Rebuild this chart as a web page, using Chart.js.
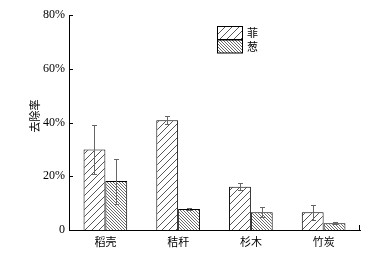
<!DOCTYPE html>
<html><head><meta charset="utf-8">
<script src="https://cdn.jsdelivr.net/npm/chart.js@4/dist/chart.umd.min.js"></script>
<style>html,body{margin:0;padding:0;background:#fff}#w{width:383px;height:253px}</style>
</head><body><div id="w"><canvas id="c" width="383" height="253"></canvas></div>
<script>
const categories = ['稻壳','秸秆','杉木','竹炭'];
const seriesNames = ['菲','葱'];
const valuesA = [30, 40.8, 16.1, 6.6];
const errorsA = [9.2, 1.5, 1.4, 2.7];
const valuesB = [18.2, 7.8, 6.6, 2.5];
const errorsB = [8.4, 0.3, 1.9, 0.3];
const yTicks = [0, 20, 40, 60, 80];
const yTitle = '去除率';

function hatch(size, dir, color, lw){
  const c = document.createElement('canvas'); c.width = size; c.height = size;
  const g = c.getContext('2d');
  g.fillStyle = '#fff'; g.fillRect(0,0,size,size);
  g.strokeStyle = color; g.lineWidth = lw;
  g.beginPath();
  if (dir === '/') {
    g.moveTo(0,size); g.lineTo(size,0);
    g.moveTo(-size,size); g.lineTo(size,-size);
    g.moveTo(0,2*size); g.lineTo(2*size,0);
  } else {
    g.moveTo(0,0); g.lineTo(size,size);
    g.moveTo(-size,0); g.lineTo(size,2*size);
    g.moveTo(0,-size); g.lineTo(2*size,size);
  }
  g.stroke();
  return g.createPattern(c,'repeat');
}
const ctx = document.getElementById('c').getContext('2d');
const patA = hatch(7,'/','#444',0.9);
const patB = hatch(3,'\\','#444',0.8);
const errs = [errorsA, errorsB];

const extras = {
  id:'extras',
  afterDatasetsDraw(chart){
    const g = chart.ctx, y = chart.scales.y, a = chart.chartArea;
    g.save();
    g.strokeStyle = '#666'; g.lineWidth = 1;
    chart.data.datasets.forEach((ds,di)=>{
      const meta = chart.getDatasetMeta(di);
      meta.data.forEach((bar,i)=>{
        const v = ds.data[i], e = errs[di][i];
        const yt = Math.round(y.getPixelForValue(v+e))+0.5, yb = Math.round(y.getPixelForValue(v-e))+0.5;
        const cx = Math.round(bar.x)+0.5;
        g.beginPath();
        g.moveTo(cx,yt); g.lineTo(cx,yb);
        g.moveTo(cx-2.5,yt); g.lineTo(cx+2.5,yt);
        g.moveTo(cx-2.5,yb); g.lineTo(cx+2.5,yb);
        g.stroke();
      });
    });
    g.strokeStyle = '#000';
    yTicks.forEach(t=>{
      const py = Math.round(y.getPixelForValue(t))+0.5;
      g.beginPath(); g.moveTo(a.left, py); g.lineTo(a.left+4, py); g.stroke();
    });
    g.beginPath(); g.moveTo(Math.round(a.right)-0.5, a.bottom-5); g.lineTo(Math.round(a.right)-0.5, a.bottom); g.stroke();
    g.fillStyle = '#000';
    g.font = '11px "Noto Sans CJK SC"';
    g.textAlign = 'center'; g.textBaseline = 'middle';
    g.translate(35,116); g.rotate(-Math.PI/2); g.fillText(yTitle,0,0);
    g.restore();
    g.save();
    const pats = [patA, patB];
    seriesNames.forEach((n,i)=>{
      const by = 26.5 + i*13.5;
      g.fillStyle = pats[i]; g.fillRect(217.5, by, 25, 13);
      g.strokeStyle = '#000'; g.lineWidth = 1; g.strokeRect(217.5, by, 25, 13);
      g.fillStyle = '#000'; g.font = '11px "Noto Sans CJK SC"';
      g.textAlign = 'left'; g.textBaseline = 'middle';
      g.fillText(n, 247, by+6.5);
    });
    g.restore();
  }
};

new Chart(ctx, {
  type:'bar',
  data:{ labels: categories, datasets:[
    {label:seriesNames[0], data:valuesA, backgroundColor:patA, borderColor:'#000', borderWidth:1, categoryPercentage:0.6, barPercentage:1},
    {label:seriesNames[1], data:valuesB, backgroundColor:patB, borderColor:'#000', borderWidth:1, categoryPercentage:0.6, barPercentage:1}
  ]},
  options:{
    responsive:false, animation:false, devicePixelRatio:1,
    layout:{padding:{top:15,right:23,left:0,bottom:0}},
    plugins:{legend:{display:false}, tooltip:{enabled:false}},
    scales:{
      x:{
        grid:{display:false, drawTicks:false},
        border:{display:true,color:'#000',width:1},
        ticks:{color:'#000', padding:5, font:{family:'"Noto Sans CJK SC"', size:11}},
        afterFit(s){ s.height = 23; }
      },
      y:{
        min:0, max:80,
        grid:{display:false, drawTicks:false},
        border:{display:true,color:'#000',width:1},
        afterBuildTicks(s){ s.ticks = yTicks.map(v=>({value:v})); },
        ticks:{color:'#000', padding:4, font:{family:'"Liberation Serif"', size:12},
          callback:(v)=> v===0 ? '0' : v+'%'},
        afterFit(s){ s.width = 69; }
      }
    }
  },
  plugins:[extras]
});
</script></body></html>
